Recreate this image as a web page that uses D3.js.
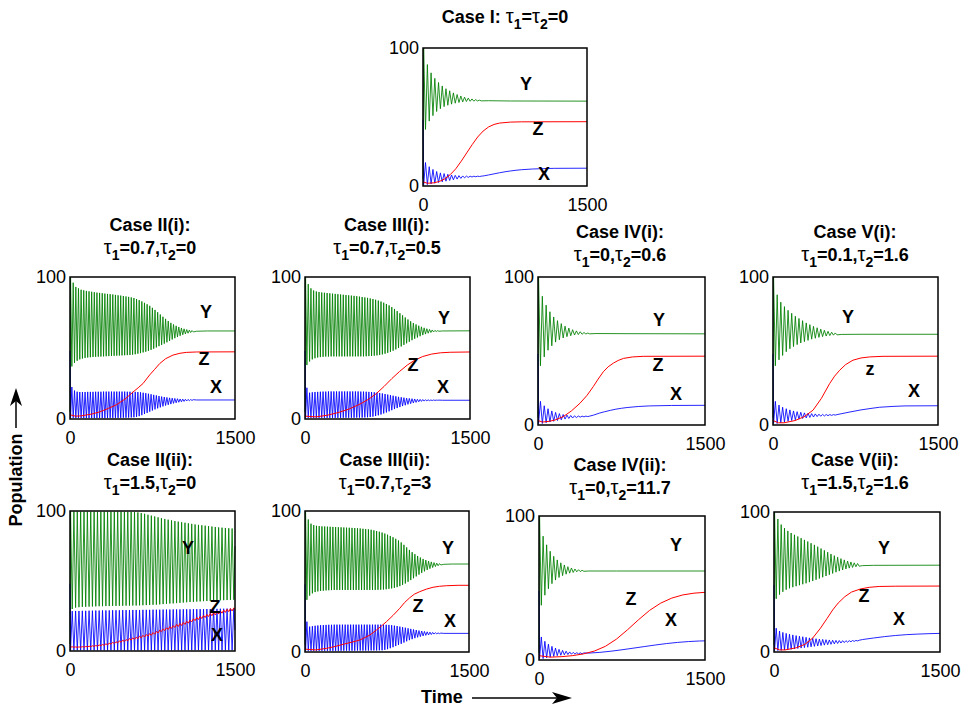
<!DOCTYPE html>
<html>
<head>
<meta charset="utf-8">
<script src="https://cdn.jsdelivr.net/npm/d3@7"></script>
<style>
  body { margin: 0; background: #fff; }
  svg { display: block; }
  text { font-family: "Liberation Sans", Arial, Helvetica, sans-serif; }
</style>
</head>
<body>
<svg id="chart"></svg>
<script>

// ---- data (time 0..1500, population 0..100) ----
// oscillating parts: [first vertex time, period]; each pair = [value at t, value half a period later]

// Case I
const caseI_cycle = [6, 34];
const caseI_Yosc = [[100,41],[88,47],[82,51],[78,54],[75,56],[72.5,57.5],[70.5,58.5],[69,59.3],[67.5,60],[66.3,60.5],
  [65.2,60.9],[64.4,61.2],[63.7,61.4],[63.1,61.5],[62.6,61.6],[62.2,61.7]];
const caseI_Ypts = [[0,5],[600,61.8],[800,61.6],[1500,61.5]];
const caseI_Xosc = [[1,17],[1,14],[1.5,12],[2,10.5],[2.5,9.5],[3,9],[3.5,8.5],[4,8],[4.5,7.7],[5,7.5],
  [5.5,7.3],[5.9,7.2],[6.2,7.1],[6.5,7.1],[6.7,7.1],[6.9,7.1]];
const caseI_Xpts = [[0,48],[560,7.4],[600,8],[650,8.8],[700,9.6],[750,10.3],[800,10.9],[850,11.4],[900,11.8],
  [1000,12.3],[1100,12.6],[1200,12.8],[1500,12.9]];
const caseI_Zpts = [[0,3],[40,2],[100,2.3],[150,3.3],[200,5.2],[250,8.3],[300,12.5],[350,18],[400,24],[450,30],
  [500,35.5],[550,39.8],[600,42.8],[650,44.6],[700,45.6],[800,46.3],[900,46.5],[1500,46.6]];

// Case II(i)
const caseIIi_cycle = [5, 24];
const caseIIi_Yosc = [[100,37],[96,39.5],[93,41],[92,42],[91,42.6],[90.6,43],[90.2,43.3],[89.9,43.5],[89.6,43.7],[89.3,43.8],
  [89,43.9],[88.8,44],[88.6,44.1],[88.3,44.2],[88.1,44.3],[87.9,44.4],[87.7,44.5],[87.4,44.6],[87.1,44.7],[86.9,44.8],
  [86.6,44.9],[86.3,45],[86,45.1],[85.6,45.3],[85.2,45.6],[84.5,46],[83.7,46.4],[82.8,46.9],[81.8,47.4],[80.8,48],
  [79.7,48.7],[78.3,49.5],[76.8,50.4],[75.2,51.3],[73.6,52.2],[72,53.1],[70.5,54],[69,55],[67.7,56],[66.6,56.9],
  [65.6,57.8],[64.8,58.6],[64.1,59.3],[63.5,59.9],[63,60.4],[62.6,60.9],[62.3,61.3]];
const caseIIi_Ypts = [[0,5],[1150,61.8],[1250,62],[1500,62]];
const caseIIi_Xosc = [[1,22.5],[0.8,20],[0.7,19.2],[0.7,19],[0.7,19],[0.7,19],[0.7,19.1],[0.7,19.1],[0.7,19.1],[0.7,19.2],
  [0.7,19.2],[0.7,19.2],[0.7,19.3],[0.7,19.3],[0.7,19.3],[0.8,19.3],[0.8,19.3],[0.8,19.3],[0.8,19.3],[0.8,19.3],
  [0.9,19.3],[0.9,19.2],[1,19.2],[1.1,19.1],[1.2,19.1],[1.5,19],[2,18.8],[2.7,18.5],[3.5,18.2],[4.3,17.8],
  [5.2,17.4],[6,17],[6.8,16.6],[7.5,16.2],[8.2,15.8],[8.9,15.5],[9.5,15.2],[10,14.9],[10.5,14.7],[11,14.5],
  [11.4,14.3],[11.8,14.1],[12.1,14],[12.4,13.9],[12.7,13.8],[12.9,13.7],[13.1,13.6]];
const caseIIi_Xpts = [[0,48],[1150,13.4],[1500,13.4]];
const caseIIi_Zpts = [[0,3],[50,2],[100,2.2],[200,3.5],[270,5],[350,7.5],[421,10],[500,14],[573,19],[620,22],[664,25],
  [724,31],[770,35],[815,39],[870,42.5],[936,45],[1000,46.3],[1057,46.9],[1150,47.2],[1500,47.3]];

// Case III(i)
const caseIIIi_cycle = [5, 24.5];
const caseIIIi_Yosc = [[100,38],[95,40.5],[92,42],[90.5,42.8],[89.8,43.3],[89.4,43.6],[89.1,43.8],[88.9,44],[88.7,44],[88.5,44.1],
  [88.3,44.1],[88.1,44.1],[87.9,44.1],[87.7,44.1],[87.5,44.1],[87.3,44.1],[87.1,44.1],[86.9,44.1],[86.7,44.1],[86.5,44.1],
  [86.2,44.1],[85.9,44.1],[85.6,44.2],[85.3,44.3],[84.9,44.4],[84.5,44.6],[84,44.8],[83.4,45.1],[82.7,45.5],[81.9,46],
  [81,46.6],[80,47.3],[78.8,48.1],[77.5,49],[76,50],[74.5,51.1],[73,52.2],[71.5,53.3],[70.1,54.4],[68.8,55.5],
  [67.6,56.5],[66.6,57.4],[65.7,58.3],[64.9,59.1],[64.2,59.8],[63.6,60.4],[63.1,60.9],[62.7,61.3],[62.4,61.6],[62.2,61.8]];
const caseIIIi_Ypts = [[0,5],[1250,62],[1500,62.1]];
const caseIIIi_Xosc = [[1,22],[0.8,18.5],[0.8,18.8],[0.8,19],[0.8,19.1],[0.8,19.2],[0.8,19.3],[0.8,19.3],[0.8,19.4],[0.8,19.4],
  [0.8,19.4],[0.8,19.4],[0.8,19.4],[0.8,19.4],[0.9,19.4],[0.9,19.4],[0.9,19.4],[0.9,19.4],[0.9,19.4],[1,19.4],
  [1,19.3],[1,19.3],[1.1,19.2],[1.2,19.1],[1.4,19],[1.7,18.8],[2.1,18.6],[2.6,18.3],[3.2,18],[3.9,17.6],
  [4.6,17.2],[5.4,16.8],[6.2,16.4],[7,16],[7.7,15.6],[8.4,15.3],[9.1,15],[9.7,14.7],[10.3,14.5],[10.8,14.3],
  [11.3,14.1],[11.7,13.9],[12.1,13.8],[12.4,13.7],[12.6,13.6],[12.8,13.5],[12.9,13.4],[13,13.4],[13.1,13.3],[13.2,13.3]];
const caseIIIi_Xpts = [[0,48],[1250,13.2],[1500,13.2]];
const caseIIIi_Zpts = [[0,2],[100,1.5],[200,2.6],[300,4.5],[400,7],[500,10.5],[580,14],[650,18],[720,23],[790,28.5],
  [860,33.5],[930,38],[1000,41.5],[1070,44],[1150,45.7],[1230,46.6],[1320,47],[1500,47.2]];

// Case IV(i)
const caseIVi_cycle = [5, 34];
const caseIVi_Yosc = [[100,40],[87,46],[81,50.5],[76.5,53.5],[73,56],[70.5,57.6],[68.5,58.8],[66.8,59.7],[65.5,60.3],[64.4,60.8],
  [63.6,61.1],[63,61.3],[62.5,61.5],[62.1,61.6]];
const caseIVi_Ypts = [[0,5],[520,61.8],[800,61.7],[1500,61.6]];
const caseIVi_Xosc = [[1,16],[1,13],[1.5,11],[2,9.5],[2.5,8.5],[3,7.7],[3.5,7.1],[4,6.7],[4.4,6.4],[4.7,6.2],
  [5,6.1],[5.3,6],[5.5,6],[5.7,6]];
const caseIVi_Xpts = [[0,48],[500,6.7],[550,8],[600,9],[650,9.9],[700,10.7],[750,11.3],[800,11.8],[900,12.5],
  [1000,12.9],[1200,13.2],[1500,13.3]];
const caseIVi_Zpts = [[0,3],[40,2],[100,2.5],[150,3.3],[226,5.6],[300,9.5],[377,14.7],[440,20],[497,26],[540,31],
  [587,36],[630,39.3],[677,41.8],[720,43.6],[768,45],[850,46],[950,46.4],[1500,46.5]];

// Case V(i)
const caseVi_cycle = [5, 33];
const caseVi_Yosc = [[100,40],[88,44],[83,47],[80,49.5],[77.5,51.5],[75.5,53],[73.5,54.3],[72,55.4],[70.5,56.3],[69,57.2],
  [67.8,58],[66.7,58.6],[65.7,59.2],[64.8,59.7],[64,60.1],[63.3,60.4],[62.7,60.7],[62.2,60.9]];
const caseVi_Ypts = [[0,5],[620,61.2],[800,61.3],[1500,61.3]];
const caseVi_Xosc = [[1,16],[1,13.5],[1.5,12],[2,11],[2.5,10.2],[3,9.5],[3.5,9],[4,8.6],[4.4,8.2],[4.8,7.9],
  [5.1,7.7],[5.4,7.5],[5.7,7.3],[5.9,7.2],[6.1,7.1],[6.3,7.05],[6.5,7],[6.7,7]];
const caseVi_Xpts = [[0,48],[620,7.6],[700,8.8],[800,10.2],[900,11.3],[970,12],[1100,12.6],[1200,12.9],[1500,13]];
const caseVi_Zpts = [[0,3],[50,1.5],[100,1.5],[200,3],[280,5.5],[364,10],[440,18],[515,28],[560,33],[606,37],
  [660,40.8],[727,43.8],[800,45.3],[879,46],[1000,46.4],[1500,46.5]];

// Case II(ii)
const caseIIii_cycle = [5, 30.6];
const caseIIii_Yosc = [[100,30],[99.7,31],[99.6,31.3],[99.5,31.5],[99.5,31.6],[99.5,31.7],[99.5,31.8],[99.5,31.9],[99.5,32],[99.5,32],
  [99.5,32.1],[99.5,32.1],[99.5,32.2],[99.5,32.2],[99.5,32.3],[99.5,32.3],[99.4,32.4],[99.4,32.4],[99.3,32.5],[99.2,32.5],
  [99,32.6],[98.5,32.7],[98,32.8],[97.3,32.9],[96.7,33],[96.1,33.1],[95.5,33.3],[94.9,33.5],[94.3,33.7],[93.8,33.9],
  [93.3,34],[92.8,34.2],[92.4,34.4],[92,34.6],[91.6,34.8],[91.2,35],[90.8,35.1],[90.4,35.3],[90.1,35.4],[89.8,35.6],
  [89.5,35.7],[89.2,35.8],[88.9,36],[88.6,36.1],[88.3,36.2],[88.1,36.3],[87.9,36.4],[87.7,36.5],[87.5,36.6]];
const caseIIii_Ypts = [[0,5],[1500,75]];
const caseIIii_Xosc = [[0.5,28.5],[0.5,28.6],[0.5,28.6],[0.5,28.7],[0.5,28.7],[0.5,28.8],[0.5,28.8],[0.5,28.9],[0.5,28.9],[0.5,29],
  [0.5,29],[0.5,29],[0.5,29.1],[0.5,29.1],[0.5,29.1],[0.5,29.2],[0.5,29.2],[0.5,29.2],[0.5,29.3],[0.5,29.3],
  [0.5,29.3],[0.5,29.4],[0.5,29.4],[0.5,29.4],[0.5,29.5],[0.5,29.5],[0.5,29.5],[0.5,29.6],[0.5,29.6],[0.5,29.6],
  [0.5,29.7],[0.5,29.7],[0.5,29.7],[0.5,29.8],[0.5,29.8],[0.5,29.8],[0.6,29.9],[0.6,29.9],[0.6,29.9],[0.6,30],
  [0.6,30],[0.6,30],[0.6,30.1],[0.6,30.1],[0.6,30.2],[0.6,30.2],[0.6,30.3],[0.6,30.3],[0.6,30.4]];
const caseIIii_Xpts = [[0,48],[1500,15]];
const caseIIii_Zosc = [[2.8,3],[2.7,2.9],[2.7,2.9],[2.7,3.1],[2.8,3.2],[3,3.4],[3.1,3.7],[3.3,3.9],[3.5,4.3],[3.8,4.6],
  [4.1,5.1],[4.5,5.5],[4.9,6.1],[5.4,6.6],[5.8,7.2],[6.3,7.7],[6.8,8.2],[7.3,8.9],[7.8,9.4],[8.3,9.9],
  [8.8,10.6],[9.4,11.2],[10,11.8],[10.6,12.4],[11.2,13.2],[12,14],[12.9,14.9],[13.8,15.8],[14.6,16.6],[15.4,17.4],
  [16.1,18.1],[16.8,19],[17.5,19.7],[18.2,20.4],[19,21.2],[19.9,22.1],[20.8,23],[21.7,23.9],[22.5,24.7],[23.2,25.4],
  [23.9,26.1],[24.6,26.8],[25.2,27.4],[25.8,28],[26.4,28.6],[27,29.2],[27.6,29.8],[28.1,30.3],[28.6,30.8]];
const caseIIii_Zpts = [[0,3],[1500,29.7]];

// Case III(ii)
const caseIIIii_cycle = [5, 25];
const caseIIIii_Yosc = [[100,37],[94,40],[91,41.6],[90,42.5],[89.5,43],[89.3,43.3],[89.1,43.5],[89,43.7],[88.9,43.8],[88.8,43.9],
  [88.7,44],[88.6,44],[88.5,44],[88.4,44],[88.3,44],[88.2,44],[88.1,44],[88,44],[87.9,44],[87.8,44],
  [87.6,44],[87.4,44],[87.2,44],[87,44],[86.7,44],[86.3,44],[85.8,44.1],[85.3,44.2],[84.7,44.3],[84,44.5],
  [83.2,44.8],[82.3,45.1],[81.4,45.5],[80.3,46],[79.1,46.7],[77.7,47.6],[76,48.6],[74.2,49.8],[72.4,51],[70.8,52.3],
  [69.4,53.6],[68.1,54.9],[67,56.1],[66,57.2],[65.2,58.2],[64.5,59.1],[63.9,59.9],[63.4,60.6],[63,61.2],[62.7,61.7]];
const caseIIIii_Ypts = [[0,5],[1270,62.2],[1350,62.4],[1500,62.4]];
const caseIIIii_Xosc = [[1,21.5],[0.8,18],[0.8,18.3],[0.8,18.6],[0.8,18.8],[0.8,19],[0.8,19.1],[0.8,19.2],[0.8,19.3],[0.8,19.3],
  [0.8,19.4],[0.8,19.4],[0.8,19.4],[0.9,19.4],[0.9,19.4],[0.9,19.4],[0.9,19.4],[0.9,19.4],[0.9,19.4],[1,19.4],
  [1,19.4],[1,19.4],[1,19.4],[1,19.4],[1.1,19.4],[1.1,19.4],[1.1,19.4],[1.2,19.4],[1.2,19.4],[1.5,19.3],
  [2,19.2],[2.7,19],[3.4,18.7],[4.2,18.4],[5,18],[5.8,17.6],[6.7,17.2],[7.6,16.8],[8.4,16.4],[9.1,16],
  [9.8,15.6],[10.4,15.2],[10.9,14.9],[11.4,14.6],[11.8,14.3],[12.1,14.1],[12.4,13.9],[12.7,13.7],[12.9,13.5],[13,13.4]];
const caseIIIii_Xpts = [[0,48],[1270,13.2],[1500,13.2]];
const caseIIIii_Zpts = [[0,2],[100,1.5],[198,2.6],[280,4],[350,5.5],[430,7],[502,8.5],[593,12],[654,15.6],[700,18.5],
  [745,21.5],[806,26],[867,31],[910,35],[958,38.5],[1000,41],[1050,42.8],[1110,44.6],[1171,45.9],[1230,46.6],
  [1293,47],[1400,47.3],[1500,47.3]];

// Case IV(ii)
const caseIVii_cycle = [5, 32];
const caseIVii_Yosc = [[100,38],[86,45],[80,49.5],[75.5,53],[72,55.5],[69.5,57.3],[67.5,58.6],[66,59.6],[64.8,60.3],[63.9,60.8],
  [63.2,61.2],[62.7,61.4],[62.3,61.6]];
const caseIVii_Ypts = [[0,5],[450,61.8],[700,61.8],[1500,61.8]];
const caseIVii_Xosc = [[1,16],[1,13],[1.5,11],[2,9.5],[2.5,8.3],[3,7.4],[3.3,6.7],[3.6,6.1],[3.8,5.6],[4,5.3],
  [4.1,5.1],[4.2,5],[4.3,4.9]];
const caseIVii_Xpts = [[0,48],[450,4.8],[550,5.3],[650,6.1],[750,7.1],[850,8.2],[950,9.3],[1050,10.4],[1150,11.4],
  [1250,12.2],[1350,12.8],[1450,13.2],[1500,13.3]];
const caseIVii_Zpts = [[0,3],[100,2],[200,2.3],[300,3],[400,4.2],[500,6.2],[600,9.5],[700,14.5],[800,21],[900,28],
  [1000,34.5],[1100,39.5],[1200,43],[1300,45.2],[1400,46.4],[1500,47]];

// Case V(ii)
const caseVii_cycle = [5, 30];
const caseVii_Yosc = [[100,38],[95,41],[91,43],[88.5,44.5],[86.5,45.5],[85,46.3],[83.7,47],[82.5,47.7],[81.3,48.4],[80.1,49.1],
  [78.9,49.9],[77.7,50.7],[76.5,51.6],[75.2,52.5],[73.9,53.4],[72.6,54.3],[71.3,55.2],[70,56.1],[68.8,57],[67.7,57.8],
  [66.7,58.6],[65.8,59.3],[65,59.9],[64.3,60.4],[63.7,60.9],[63.2,61.3]];
const caseVii_Ypts = [[0,5],[800,61.7],[900,61.9],[1500,62]];
const caseVii_Xosc = [[1,17],[1,15],[1.2,14],[1.4,13.3],[1.6,12.7],[1.9,12.2],[2.2,11.7],[2.5,11.3],[2.8,10.9],[3.1,10.5],
  [3.4,10.1],[3.7,9.8],[4,9.5],[4.3,9.2],[4.6,9],[4.9,8.8],[5.2,8.6],[5.5,8.4],[5.8,8.3],[6.1,8.2],
  [6.4,8.1],[6.7,8.1],[7,8.1],[7.3,8.2],[7.6,8.3],[7.9,8.4]];
const caseVii_Xpts = [[0,48],[800,8.9],[900,10],[1000,11],[1100,11.8],[1200,12.4],[1300,12.8],[1400,13.1],[1500,13.3]];
const caseVii_Zpts = [[0,3],[50,1.5],[100,1.5],[200,3],[280,5.5],[350,10],[420,17],[480,24],[530,30],[580,35],
  [640,39.5],[700,42.8],[780,45],[860,46.2],[950,46.8],[1100,47],[1500,47.1]];

const timeTicks = [0, 1500];
const popTicks = [0, 100];

// ---- layout: frame box [x0, y0, x1, y1], title centre and baselines, curve labels at [t, value] ----
const panels = [
  { title: ["Case I: τ_1=τ_2=0"], tx: 505, ty: [23], box: [423, 48, 587, 186],
    cycle: caseI_cycle, Y: [caseI_Ypts, caseI_Yosc], X: [caseI_Xpts, caseI_Xosc], Z: [caseI_Zpts],
    labels: [["Y", 942, 74.6], ["Z", 1052, 42], ["X", 1107, 8.7]] },
  { title: ["Case II(i):", "τ_1=0.7,τ_2=0"], tx: 150, ty: [231, 254], box: [70, 277, 235, 419],
    cycle: caseIIi_cycle, Y: [caseIIi_Ypts, caseIIi_Yosc], X: [caseIIi_Xpts, caseIIi_Xosc], Z: [caseIIi_Zpts],
    labels: [["Y", 1236, 76], ["Z", 1218, 42.3], ["X", 1327, 23.2]] },
  { title: ["Case III(i):", "τ_1=0.7,τ_2=0.5"], tx: 387, ty: [231, 254], box: [305, 277, 470, 419],
    cycle: caseIIIi_cycle, Y: [caseIIIi_Ypts, caseIIIi_Yosc], X: [caseIIIi_Xpts, caseIIIi_Xosc], Z: [caseIIIi_Zpts],
    labels: [["Y", 1264, 71.8], ["Z", 982, 38.7], ["X", 1255, 23.2]] },
  { title: ["Case IV(i):", "τ_1=0,τ_2=0.6"], tx: 620, ty: [238, 261], box: [538, 277, 705, 425],
    cycle: caseIVi_cycle, Y: [caseIVi_Ypts, caseIVi_Yosc], X: [caseIVi_Xpts, caseIVi_Xosc], Z: [caseIVi_Zpts],
    labels: [["Y", 1087, 71], ["Z", 1078, 41.2], ["X", 1240, 21]] },
  { title: ["Case V(i):", "τ_1=0.1,τ_2=1.6"], tx: 855, ty: [238, 261], box: [773, 277, 938, 425],
    cycle: caseVi_cycle, Y: [caseVi_Ypts, caseVi_Yosc], X: [caseVi_Xpts, caseVi_Xosc], Z: [caseVi_Zpts],
    labels: [["Y", 682, 73.6], ["z", 882, 38.5], ["X", 1282, 23]] },
  { title: ["Case II(ii):", "τ_1=1.5,τ_2=0"], tx: 150, ty: [466, 489], box: [70, 511, 235, 651],
    cycle: caseIIii_cycle, Y: [caseIIii_Ypts, caseIIii_Yosc], X: [caseIIii_Xpts, caseIIii_Xosc], Z: [caseIIii_Zpts, caseIIii_Zosc],
    labels: [["Y", 1073, 73.6], ["Z", 1318, 32], ["X", 1336, 12]] },
  { title: ["Case III(ii):", "τ_1=0.7,τ_2=3"], tx: 385, ty: [466, 489], box: [305, 511, 469, 652],
    cycle: caseIIIii_cycle, Y: [caseIIIii_Ypts, caseIIIii_Yosc], X: [caseIIIii_Xpts, caseIIIii_Xosc], Z: [caseIIIii_Zpts],
    labels: [["Y", 1308, 74], ["Z", 1034, 33.3], ["X", 1326, 22]] },
  { title: ["Case IV(ii):", "τ_1=0,τ_2=11.7"], tx: 620, ty: [471, 494], box: [539, 516, 705, 660],
    cycle: caseIVii_cycle, Y: [caseIVii_Ypts, caseIVii_Yosc], X: [caseIVii_Xpts, caseIVii_Xosc], Z: [caseIVii_Zpts],
    labels: [["Y", 1238, 80.5], ["Z", 831, 43], ["X", 1193, 27.8]] },
  { title: ["Case V(ii):", "τ_1=1.5,τ_2=1.6"], tx: 855, ty: [466, 489], box: [774, 512, 940, 652],
    cycle: caseVii_cycle, Y: [caseVii_Ypts, caseVii_Yosc], X: [caseVii_Xpts, caseVii_Xosc], Z: [caseVii_Zpts],
    labels: [["Y", 994, 74.5], ["Z", 813, 40.4], ["X", 1130, 24]] }
];

const colors = { Y: "#008000", Z: "#ff0000", X: "#0000ff" };
const widths = { Y: 0.85, Z: 1, X: 0.85 };

const svg = d3.select("#chart").attr("width", 963).attr("height", 711);

// smooth points plus zigzag vertices, merged in time order
function buildSeries(series, cycle) {
  const pts = series[0].slice();
  const osc = series[1];
  if (osc) {
    osc.forEach((pair, k) => {
      const t = cycle[0] + k * cycle[1];
      pts.push([t, pair[0]]);
      pts.push([t + cycle[1] / 2, pair[1]]);
    });
  }
  return pts.sort((a, b) => a[0] - b[0]);
}

// title text with tau subscripts written as τ_1
function writeTitle(sel, str) {
  const parts = str.split(/(τ_\d)/).filter(s => s.length);
  let shifted = false;
  parts.forEach(p => {
    if (p.startsWith("τ_")) {
      sel.append("tspan").attr("font-weight", "normal").attr("font-size", 20)
        .attr("dy", shifted ? -6 : 0).text("τ");
      sel.append("tspan").attr("font-size", 14).attr("dy", 6).text(p.slice(2));
      shifted = true;
    } else {
      sel.append("tspan").attr("dy", shifted ? -6 : 0).text(p);
      shifted = false;
    }
  });
}

panels.forEach(p => {
  const [x0, y0, x1, y1] = p.box;
  const x = d3.scaleLinear().domain([0, 1500]).range([x0, x1]);
  const y = d3.scaleLinear().domain([0, 100]).range([y1, y0]);
  const g = svg.append("g");

  // title
  p.title.forEach((line, i) => {
    const t = g.append("text")
      .attr("x", p.tx).attr("y", p.ty[i])
      .attr("text-anchor", "middle")
      .attr("font-size", 18).attr("font-weight", "bold");
    writeTitle(t, line);
  });

  // curves
  const line = d3.line().x(d => x(d[0])).y(d => y(d[1]));
  ["Y", "X", "Z"].forEach(key => {
    g.append("path")
      .datum(buildSeries(p[key], p.cycle))
      .attr("fill", "none")
      .attr("stroke", colors[key])
      .attr("stroke-width", widths[key])
      .attr("stroke-linejoin", "round")
      .attr("d", line);
  });

  // curve labels
  p.labels.forEach(l => {
    g.append("text")
      .attr("x", x(l[1])).attr("y", y(l[2]))
      .attr("text-anchor", "middle").attr("dy", "0.36em")
      .attr("font-size", 18).attr("font-weight", "bold")
      .text(l[0]);
  });

  // axes
  const xa = g.append("g").attr("transform", `translate(0,${y1})`)
    .call(d3.axisBottom(x).tickValues(timeTicks).tickSize(0).tickPadding(12).tickFormat(d3.format("d")));
  const ya = g.append("g").attr("transform", `translate(${x0},0)`)
    .call(d3.axisLeft(y).tickValues(popTicks).tickSize(0).tickPadding(4).tickFormat(d3.format("d")));
  [xa, ya].forEach(a => {
    a.select(".domain").remove();
    a.attr("font-family", null).attr("font-size", null);
    a.selectAll("text").attr("font-size", 18).attr("fill", "#000");
  });

  // frame
  g.append("rect")
    .attr("x", x0).attr("y", y0)
    .attr("width", x1 - x0).attr("height", y1 - y0)
    .attr("fill", "none").attr("stroke", "#000").attr("stroke-width", 1.5);
});

// axis titles with arrows
svg.append("text")
  .attr("transform", "translate(22,480) rotate(-90)")
  .attr("text-anchor", "middle")
  .attr("font-size", 18).attr("font-weight", "bold")
  .text("Population");
svg.append("line").attr("x1", 16).attr("y1", 428).attr("x2", 16).attr("y2", 400)
  .attr("stroke", "#000").attr("stroke-width", 1.5);
svg.append("path").attr("d", "M16,388 L10,406 L16,401 L22,406 Z").attr("fill", "#000");

svg.append("text")
  .attr("x", 421).attr("y", 703)
  .attr("font-size", 18).attr("font-weight", "bold")
  .text("Time");
svg.append("line").attr("x1", 472).attr("y1", 698).attr("x2", 562).attr("y2", 698)
  .attr("stroke", "#000").attr("stroke-width", 1.5);
svg.append("path").attr("d", "M572,698 L552,692 L557,698 L552,704 Z").attr("fill", "#000");

</script>
</body>
</html>
